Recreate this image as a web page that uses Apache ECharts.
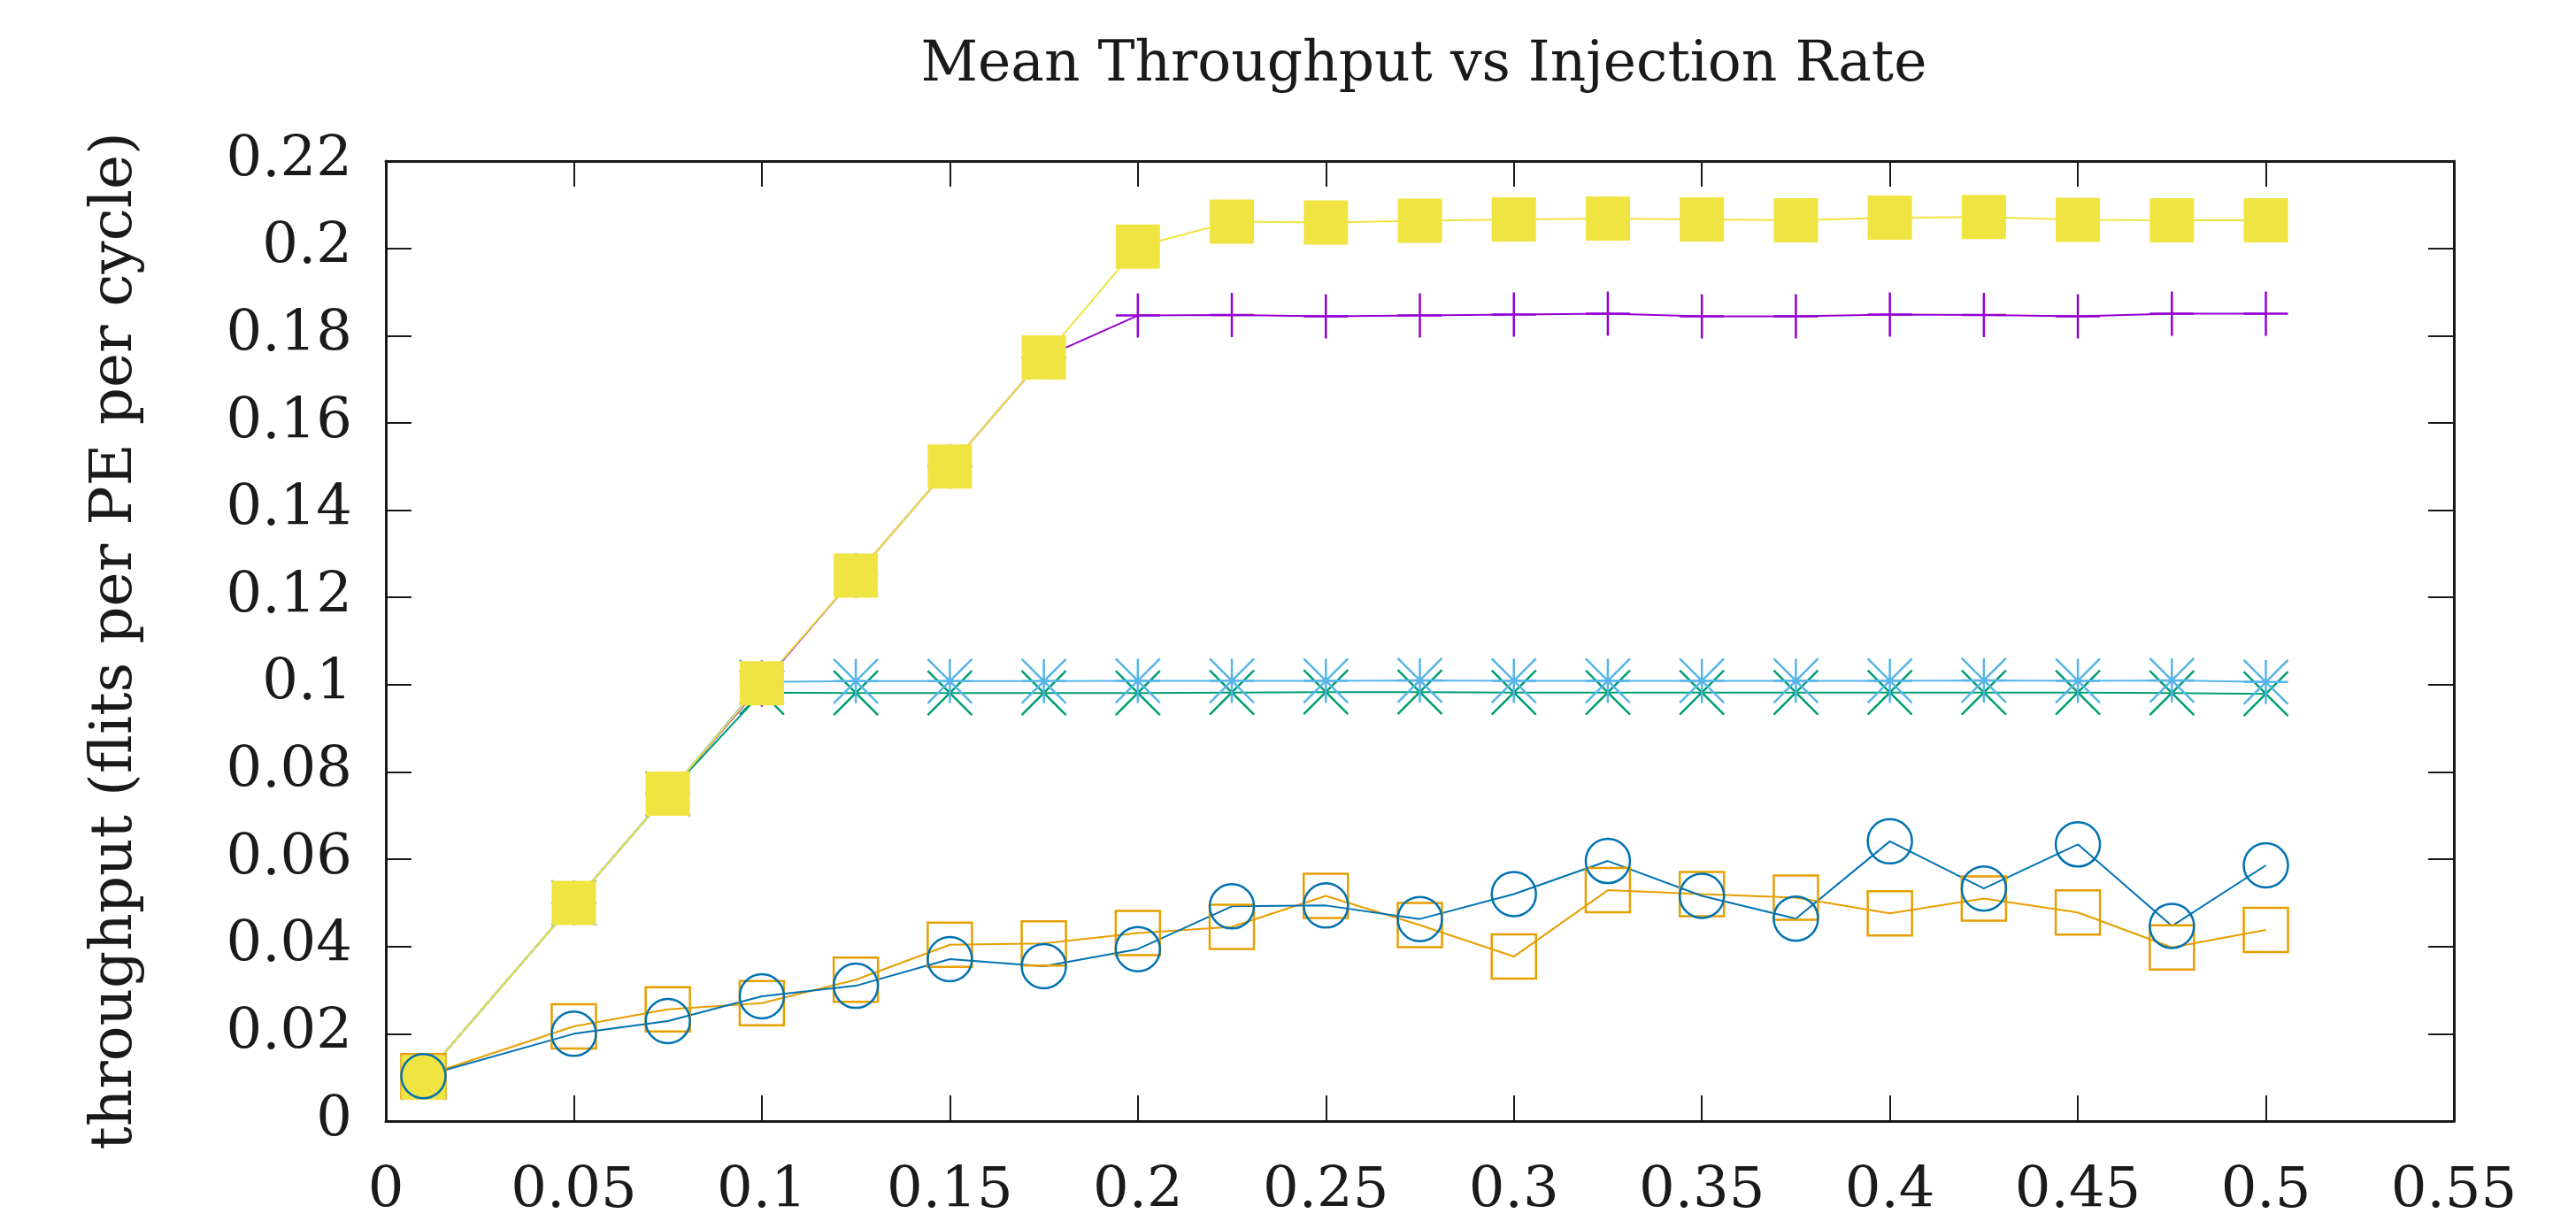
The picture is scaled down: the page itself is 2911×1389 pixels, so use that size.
<!DOCTYPE html>
<html lang="en">
<head>
<meta charset="utf-8">
<title>Mean Throughput vs Injection Rate</title>
<script src="https://cdn.jsdelivr.net/npm/echarts@6/dist/echarts.min.js"></script>
<style>
  html, body { margin: 0; padding: 0; background: #fff; }
  #main { width: 2911px; height: 1389px; }
</style>
</head>
<body>
<div id="main"></div>
<script>
// injection rate (x) and the six throughput curves
var injection = [0.01, 0.05, 0.075, 0.1, 0.125, 0.15, 0.175, 0.2, 0.225, 0.25, 0.275, 0.3, 0.325, 0.35, 0.375, 0.4, 0.425, 0.45, 0.475, 0.5];
var purplePlus = [0.01, 0.05, 0.075, 0.1, 0.125, 0.15, 0.175, 0.1846, 0.1847, 0.1844, 0.1846, 0.1848, 0.1850, 0.1844, 0.1844, 0.1848, 0.1847, 0.1844, 0.1850, 0.1850];
var greenCross = [0.01, 0.05, 0.075, 0.0982, 0.0981, 0.0981, 0.0981, 0.0981, 0.0982, 0.0983, 0.0983, 0.0982, 0.0982, 0.0982, 0.0982, 0.0982, 0.0982, 0.0982, 0.0981, 0.0979];
var blueStar = [0.01, 0.05, 0.075, 0.1006, 0.1008, 0.1008, 0.1008, 0.1009, 0.1009, 0.1009, 0.1010, 0.1009, 0.1009, 0.1009, 0.1009, 0.1009, 0.1010, 0.1009, 0.1010, 0.1006];
var orangeBox = [0.0103, 0.0217, 0.0256, 0.0270, 0.0324, 0.0404, 0.0407, 0.0431, 0.0445, 0.0516, 0.0449, 0.0377, 0.0529, 0.0520, 0.0512, 0.0476, 0.0510, 0.0478, 0.0398, 0.0438];
var yellowBox = [0.01, 0.05, 0.075, 0.1003, 0.125, 0.15, 0.175, 0.2004, 0.2061, 0.2059, 0.2063, 0.2066, 0.2068, 0.2066, 0.2064, 0.2070, 0.2072, 0.2065, 0.2064, 0.2064];
var blueCircle = [0.0103, 0.0200, 0.0229, 0.0286, 0.0310, 0.0371, 0.0355, 0.0394, 0.0492, 0.0494, 0.0463, 0.0520, 0.0596, 0.0516, 0.0464, 0.0641, 0.0533, 0.0634, 0.0447, 0.0586];

var FONT = 'DejaVu Serif';

function pairs(ys) {
  var out = [];
  for (var i = 0; i < injection.length; i++) out.push([injection[i], ys[i]]);
  return out;
}

function mkSeries(ys, color, symbol, filled) {
  return {
    type: 'line',
    data: pairs(ys),
    symbol: symbol,
    symbolSize: 50,
    showSymbol: true,
    clip: false,
    lineStyle: { color: color, width: 2 },
    itemStyle: filled
      ? { color: color, borderWidth: 0 }
      : { color: 'rgba(0,0,0,0)', borderColor: color, borderWidth: 2.5 },
    emphasis: { disabled: true }
  };
}

var plusPath = 'path://M0,25L50,25M25,0L25,50';
var crossPath = 'path://M0,0L50,50M50,0L0,50';
var starPath = 'path://M0,25L50,25M25,0L25,50M0,0L50,50M50,0L0,50';

function axLine() {
  return { show: true, onZero: false, lineStyle: { color: '#1a1a1a', width: 3 } };
}
function axTick() {
  return { show: true, inside: true, length: 29, lineStyle: { color: '#1a1a1a', width: 2 } };
}
function axLabel(margin) {
  return { margin: margin, fontFamily: FONT, fontSize: 64, color: '#1a1a1a' };
}

var option = {
  animation: false,
  backgroundColor: '#ffffff',
  title: {
    text: 'Mean Throughput vs Injection Rate',
    left: 1604,
    top: 38,
    textAlign: 'center',
    textStyle: { fontFamily: FONT, fontSize: 63, fontWeight: 'normal', color: '#1a1a1a' }
  },
  grid: { left: 436, top: 182, width: 2337, height: 1085 },
  xAxis: [{
    type: 'value', min: 0, max: 0.55, interval: 0.05,
    axisLine: axLine(), axisTick: axTick(),
    axisLabel: axLabel(48),
    splitLine: { show: false }
  }, {
    type: 'value', position: 'top', min: 0, max: 0.55, interval: 0.05,
    axisLine: axLine(), axisTick: axTick(),
    axisLabel: { show: false }, splitLine: { show: false }
  }],
  yAxis: [{
    type: 'value', min: 0, max: 0.22, interval: 0.02,
    name: 'throughput (flits per PE per cycle)',
    nameLocation: 'middle', nameGap: 272, nameRotate: 90,
    nameTextStyle: { fontFamily: FONT, fontSize: 66, color: '#1a1a1a' },
    axisLine: axLine(), axisTick: axTick(),
    axisLabel: axLabel(38),
    splitLine: { show: false }
  }, {
    type: 'value', position: 'right', min: 0, max: 0.22, interval: 0.02,
    axisLine: axLine(), axisTick: axTick(),
    axisLabel: { show: false }, splitLine: { show: false }
  }],
  series: [
    mkSeries(purplePlus, '#9400d3', plusPath, false),
    mkSeries(greenCross, '#009e73', crossPath, false),
    mkSeries(blueStar, '#56b4e9', starPath, false),
    mkSeries(orangeBox, '#e69f00', 'rect', false),
    mkSeries(yellowBox, '#f0e442', 'rect', true),
    mkSeries(blueCircle, '#0072b2', 'circle', false)
  ]
};

var chart = echarts.init(document.getElementById('main'));
chart.setOption(option);
</script>
</body>
</html>
